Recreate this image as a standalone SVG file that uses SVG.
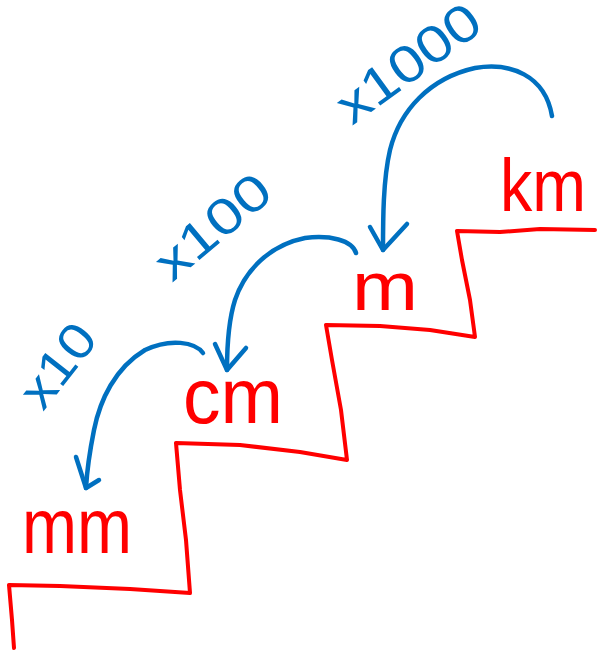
<svg xmlns="http://www.w3.org/2000/svg" width="600" height="654" viewBox="0 0 600 654">
<style>
.stair{fill:none;stroke:#ff0000;stroke-width:4;stroke-linejoin:round;stroke-linecap:round}
.unit{fill:#ff0000;font-family:"Liberation Sans","DejaVu Sans",sans-serif}
.arc{fill:none;stroke:#0070c0;stroke-width:4.5;stroke-linecap:round;stroke-linejoin:round}
.lbl{fill:#0070c0;font-family:"Liberation Sans","DejaVu Sans",sans-serif}
</style>
<rect width="600" height="654" fill="#ffffff"/>
<path id="stairs" class="stair" d="M14,648 L12,620 L9,585 L60,586 L130,589 L190,593 L186,540 L180,490 L176,443 L240,445 L300,452 L347,460 L341,410 L332,360 L326,325 L380,326 L430,330 L475,337 L470,300 L462,260 L457,231 L500,232 L540,229 L595,230"/>
<g id="node-km"><text class="unit" x="500" y="211" font-size="74" textLength="86" lengthAdjust="spacingAndGlyphs">km</text></g>
<g id="node-m"><text class="unit" x="352" y="310" font-size="68" textLength="66" lengthAdjust="spacingAndGlyphs">m</text></g>
<g id="node-cm"><text class="unit" x="183" y="423" font-size="78" textLength="100" lengthAdjust="spacingAndGlyphs">cm</text></g>
<g id="node-mm"><text class="unit" x="22" y="553" font-size="78" textLength="110" lengthAdjust="spacingAndGlyphs">mm</text></g>
<g id="connectors">
<path class="arc" d="M552,116 C545,75 510,62 475,68 C430,78 400,110 390,150 C383,180 383,220 383,250"/>
<path class="arc" d="M370,227 L383,250 L407,224"/>
<path class="arc" d="M356,253 C352,240 330,235 305,238 C270,245 245,270 235,300 C228,322 227,345 227,370"/>
<path class="arc" d="M215,344 L227,370 L246,348"/>
<path class="arc" d="M203,353 C195,342 170,338 145,350 C115,368 100,400 94,430 C89,455 87,470 86,488"/>
<path class="arc" d="M76,457 L86,488 L99,480"/>
</g>
<g id="labels">
<text class="lbl" transform="translate(352,126) rotate(-36)" font-size="52" textLength="165" lengthAdjust="spacingAndGlyphs">x1000</text>
<text class="lbl" transform="translate(172,283) rotate(-40)" font-size="50" textLength="135" lengthAdjust="spacingAndGlyphs">x100</text>
<text class="lbl" transform="translate(43,412) rotate(-52)" font-size="50" textLength="92" lengthAdjust="spacingAndGlyphs">x10</text>
</g>
</svg>
